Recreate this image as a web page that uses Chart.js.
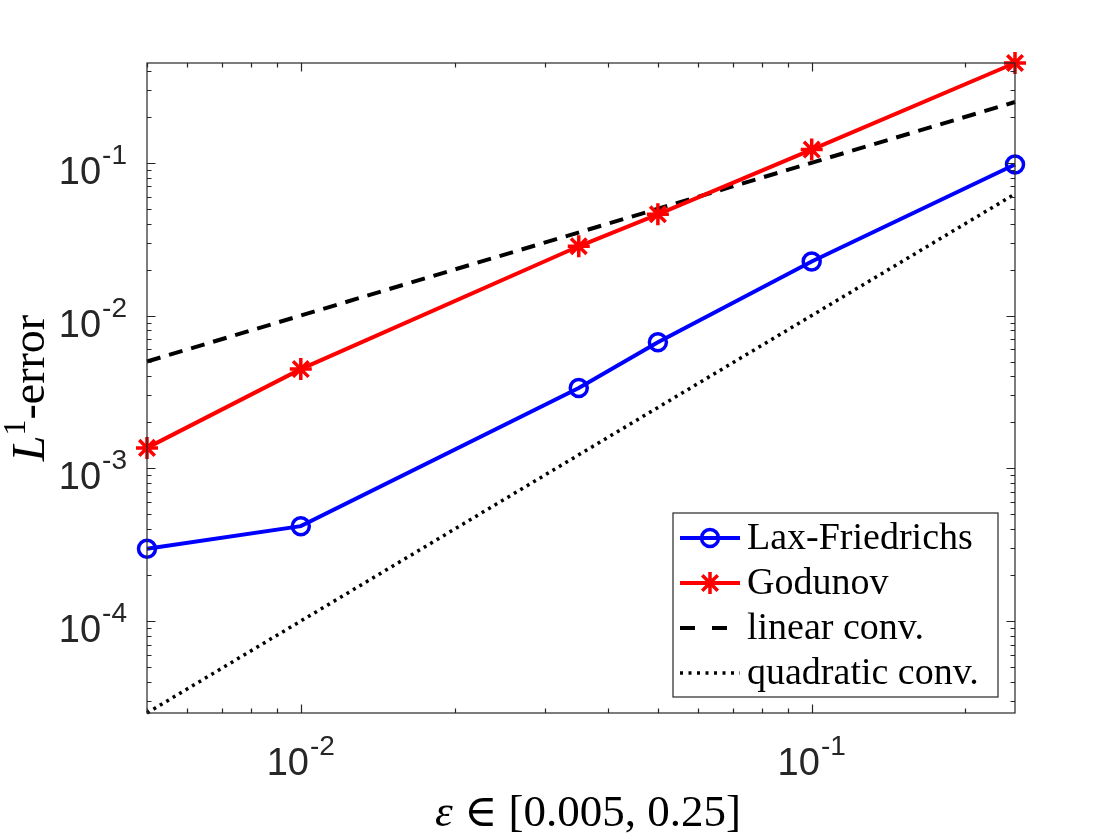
<!DOCTYPE html>
<html>
<head>
<meta charset="utf-8">
<script src="https://cdn.jsdelivr.net/npm/chart.js@4.4.0/dist/chart.umd.min.js"></script>
<style>
  html, body { margin: 0; padding: 0; background: #fff; }
  #wrap { width: 1120px; height: 840px; position: relative; }
</style>
</head>
<body>
<div id="wrap"><canvas id="c"></canvas></div>
<script>
// epsilon values and L1 errors
const EPS = [0.005, 0.01, 0.035, 0.05, 0.1, 0.25];
const LAX_F = [2.97e-4, 4.18e-4, 3.35e-3, 6.69e-3, 0.0226, 0.0975];
const GODUNOV = [1.36e-3, 4.46e-3, 0.0284, 0.046, 0.122, 0.45];

// reference slopes (end points only, straight on log-log)
const REF_X = [0.005, 0.25];
const LINEAR = [0.005, 0.25];
const QUADR = [2.5e-5, 0.0625];

// axis limits and labelled ticks
const X_RANGE = [0.005, 0.25];
const Y_RANGE = [2.5e-5, 0.45];
const X_TICKS = [0.01, 0.1];
const X_TICK_EXP = ['-2', '-1'];
const Y_TICKS = [1e-4, 1e-3, 1e-2, 1e-1];
const Y_TICK_EXP = ['-4', '-3', '-2', '-1'];

const AX_COL = '#262626';
const SANS = "'Liberation Sans', Arial, sans-serif";
const SERIF = "'Liberation Serif', 'DejaVu Serif', serif";

const pts = (xs, ys) => xs.map((x, i) => ({ x: x, y: ys[i] }));

// 1..9 x 10^n inside the range
function logTicks(min, max) {
  let out = [];
  for (let e = Math.floor(Math.log10(min)); e <= Math.ceil(Math.log10(max)); e++) {
    for (let k = 1; k < 10; k++) {
      let v = k * Math.pow(10, e);
      if (v >= min * 0.999 && v <= max * 1.001) out.push({ v: v, major: k === 1 });
    }
  }
  return out;
}

function drawStar(ctx, x, y, r) {
  ctx.beginPath();
  for (let i = 0; i < 4; i++) {
    let a = i * Math.PI / 4;
    ctx.moveTo(x - r * Math.cos(a), y - r * Math.sin(a));
    ctx.lineTo(x + r * Math.cos(a), y + r * Math.sin(a));
  }
  ctx.stroke();
}

// "10" with a superscript exponent
function powWidth(ctx, exp) {
  ctx.font = '38px ' + SANS;
  let w1 = ctx.measureText('10').width;
  ctx.font = '28px ' + SANS;
  return [w1, ctx.measureText(exp).width];
}
function drawPow(ctx, exp, left, base) {
  let [w1] = powWidth(ctx, exp);
  ctx.font = '38px ' + SANS;
  ctx.fillText('10', left, base);
  ctx.font = '28px ' + SANS;
  ctx.fillText(exp, left + w1 + 1, base - 20);
}

// draws text pieces in a row: [text, font, dy]
function drawRun(ctx, pieces, cx, base) {
  let total = 0;
  pieces.forEach(p => { ctx.font = p[1]; total += ctx.measureText(p[0]).width; });
  let x = cx - total / 2;
  pieces.forEach(p => {
    ctx.font = p[1];
    ctx.fillText(p[0], x, base + (p[2] || 0));
    x += ctx.measureText(p[0]).width;
  });
}

const matlabAxes = {
  id: 'matlabAxes',
  afterDatasetsDraw(chart) {
    const ctx = chart.ctx, a = chart.chartArea;
    const xs = chart.scales.x, ys = chart.scales.y;
    ctx.save();
    ctx.strokeStyle = AX_COL;
    ctx.lineWidth = 1.2;
    ctx.setLineDash([]);

    // ticks pointing inwards on all four sides
    ctx.beginPath();
    logTicks(X_RANGE[0], X_RANGE[1]).forEach(t => {
      let px = Math.round(xs.getPixelForValue(t.v)) + 0.5;
      let len = t.major ? 8.5 : 4.5;
      ctx.moveTo(px, a.bottom); ctx.lineTo(px, a.bottom - len);
      ctx.moveTo(px, a.top); ctx.lineTo(px, a.top + len);
    });
    logTicks(Y_RANGE[0], Y_RANGE[1]).forEach(t => {
      let py = Math.round(ys.getPixelForValue(t.v)) + 0.5;
      let len = t.major ? 8.5 : 4.5;
      ctx.moveTo(a.left, py); ctx.lineTo(a.left + len, py);
      ctx.moveTo(a.right, py); ctx.lineTo(a.right - len, py);
    });
    ctx.stroke();
    ctx.strokeRect(a.left, a.top, a.right - a.left, a.bottom - a.top);

    // tick labels
    ctx.fillStyle = AX_COL;
    ctx.textBaseline = 'alphabetic';
    ctx.textAlign = 'left';
    X_TICKS.forEach((v, i) => {
      let px = xs.getPixelForValue(v);
      let [w1, w2] = powWidth(ctx, X_TICK_EXP[i]);
      drawPow(ctx, X_TICK_EXP[i], px - (w1 + w2 + 1) / 2, a.bottom + 62);
    });
    Y_TICKS.forEach((v, i) => {
      let py = ys.getPixelForValue(v);
      let [w1, w2] = powWidth(ctx, Y_TICK_EXP[i]);
      drawPow(ctx, Y_TICK_EXP[i], a.left - 20 - (w1 + w2 + 1), py + 21);
    });

    // axis titles
    ctx.fillStyle = '#000';
    drawRun(ctx, [
      ['\u03b5', 'italic 45px ' + SERIF],
      [' \u2208 [0.005, 0.25]', '45px ' + SERIF]
    ], 588, a.bottom + 113);
    ctx.save();
    ctx.translate(44, (a.top + a.bottom) / 2);
    ctx.rotate(-Math.PI / 2);
    drawRun(ctx, [
      ['L', 'italic 46px ' + SERIF],
      ['1', '32px ' + SERIF, -19],
      ['-error', '46px ' + SERIF]
    ], 0, 0);
    ctx.restore();

    // legend box
    const bx = a.right - 342, by = a.bottom - 200, bw = 325, bh = 184;
    ctx.fillStyle = '#fff';
    ctx.fillRect(bx, by, bw, bh);
    ctx.strokeStyle = AX_COL;
    ctx.lineWidth = 1.2;
    ctx.strokeRect(bx, by, bw, bh);
    const legendDash = [[], [], [15, 17], [3, 5.5]];
    chart.data.datasets.forEach((ds, i) => {
      let ry = by + 25 + i * 45;
      ctx.strokeStyle = ds.borderColor;
      ctx.lineWidth = ds.borderWidth;
      ctx.setLineDash(legendDash[i]);
      ctx.beginPath();
      ctx.moveTo(bx + 7, ry); ctx.lineTo(bx + 67, ry);
      ctx.stroke();
      ctx.setLineDash([]);
      ctx.lineWidth = ds.pointBorderWidth || ds.borderWidth;
      if (ds.pointStyle === 'circle' && ds.pointRadius > 0) {
        ctx.beginPath();
        ctx.arc(bx + 37, ry, ds.pointRadius, 0, Math.PI * 2);
        ctx.stroke();
      } else if (ds.pointStyle === 'star' && ds.pointRadius > 0) {
        drawStar(ctx, bx + 37, ry, ds.pointRadius);
      }
      ctx.fillStyle = '#000';
      ctx.font = '38px ' + SERIF;
      ctx.fillText(ds.label, bx + 74, ry + 11);
    });
    ctx.restore();
  }
};

new Chart(document.getElementById('c'), {
  type: 'line',
  data: {
    datasets: [
      {
        label: 'Lax-Friedrichs', data: pts(EPS, LAX_F),
        borderColor: '#0000ff', borderWidth: 4,
        pointStyle: 'circle', pointRadius: 8.5, pointBorderWidth: 3.5,
        pointBorderColor: '#0000ff', pointBackgroundColor: 'rgba(0,0,0,0)',
        clip: false, tension: 0
      },
      {
        label: 'Godunov', data: pts(EPS, GODUNOV),
        borderColor: '#ff0000', borderWidth: 4,
        pointStyle: 'star', pointRadius: 11, pointBorderWidth: 3.5,
        pointBorderColor: '#ff0000', pointBackgroundColor: 'rgba(0,0,0,0)',
        clip: false, tension: 0
      },
      {
        label: 'linear conv.', data: pts(REF_X, LINEAR),
        borderColor: '#000000', borderWidth: 4, borderDash: [14, 9],
        pointRadius: 0, clip: false
      },
      {
        label: 'quadratic conv.', data: pts(REF_X, QUADR),
        borderColor: '#000000', borderWidth: 3.5, borderDash: [3, 4.5],
        pointRadius: 0, clip: false
      }
    ]
  },
  options: {
    responsive: true,
    maintainAspectRatio: false,
    animation: false,
    events: [],
    layout: { padding: { left: 147, top: 63, right: 105, bottom: 127 } },
    scales: {
      x: { type: 'logarithmic', min: X_RANGE[0], max: X_RANGE[1], display: false },
      y: { type: 'logarithmic', min: Y_RANGE[0], max: Y_RANGE[1], display: false }
    },
    plugins: { legend: { display: false }, tooltip: { enabled: false } }
  },
  plugins: [matlabAxes]
});
</script>
</body>
</html>
